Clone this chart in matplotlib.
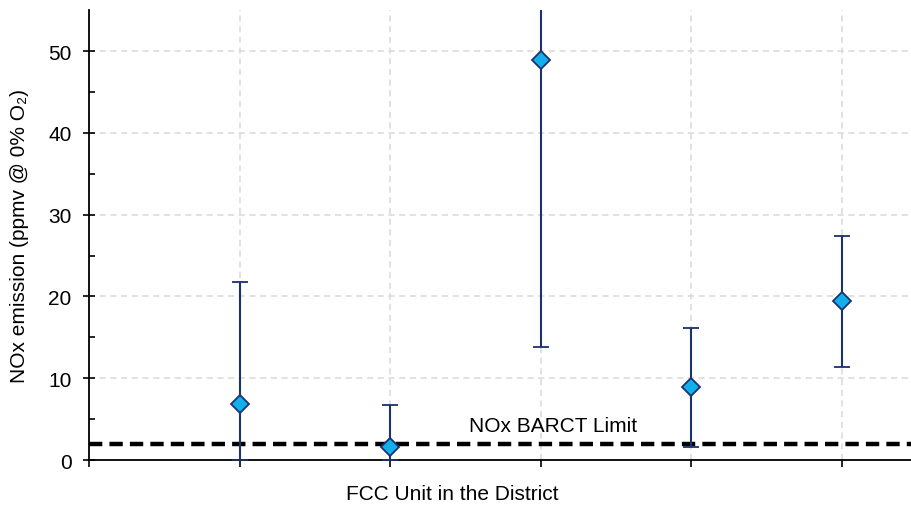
import matplotlib
matplotlib.use('Agg')
import matplotlib.pyplot as plt
import numpy as np

units = [1, 2, 3, 4, 5]
nox_mean = [6.9, 1.6, 48.9, 8.9, 19.4]
nox_high = [21.8, 6.7, 60.0, 16.2, 27.4]
nox_low = [0.0, 0.0, 13.8, 1.6, 11.4]
barct_limit = 2.0

plt.rcParams.update({'font.size': 15, 'font.family': ['Liberation Sans', 'DejaVu Sans']})
fig = plt.figure(figsize=(9.12, 5.10), dpi=100)
ax = fig.add_axes([0.0976, 0.096, 0.9024, 0.882])

mean = np.array(nox_mean)
err = [mean - np.array(nox_low), np.array(nox_high) - mean]
ax.axhline(barct_limit, color='black', lw=3.2, ls=(0, (3, 1.6)), zorder=2)
ax.errorbar(units, mean, yerr=err, fmt='D', color='#1b3170', ecolor='#1b3170', elinewidth=1.5,
            capsize=6, capthick=1.5, markersize=9, markerfacecolor='#12b0ea',
            markeredgecolor='#1b3170', markeredgewidth=1.3, zorder=3)
ax.text(2.52, 3.6, 'NOx BARCT Limit', fontsize=15)

ax.set_xlim(0, 5.465)
ax.set_ylim(0, 55)
ax.set_xticks(range(0, 6))
ax.set_xticklabels([])
ax.set_yticks(range(0, 51, 10))
ax.set_yticks(range(5, 55, 10), minor=True)
ax.tick_params(axis='y', which='major', direction='inout', length=9, width=1.2, pad=8)
ax.tick_params(axis='y', which='minor', direction='in', length=4, width=1.2)
ax.tick_params(axis='x', which='major', direction='out', length=5, width=1.2)
ax.grid(True, which='major', color='#d9d9d9', ls=(0, (4, 3)), lw=1.1, zorder=0)
ax.set_axisbelow(True)
for s in ['top', 'right']:
    ax.spines[s].set_visible(False)
for s in ['left', 'bottom']:
    ax.spines[s].set_linewidth(1.3)
ax.set_ylabel('NOx emission (ppmv @ 0% O₂)', labelpad=14)
fig.text(452 / 912, 1 - 500 / 510, 'FCC Unit in the District', ha='center', va='baseline', fontsize=15)

fig.savefig('out.png', dpi=100)
